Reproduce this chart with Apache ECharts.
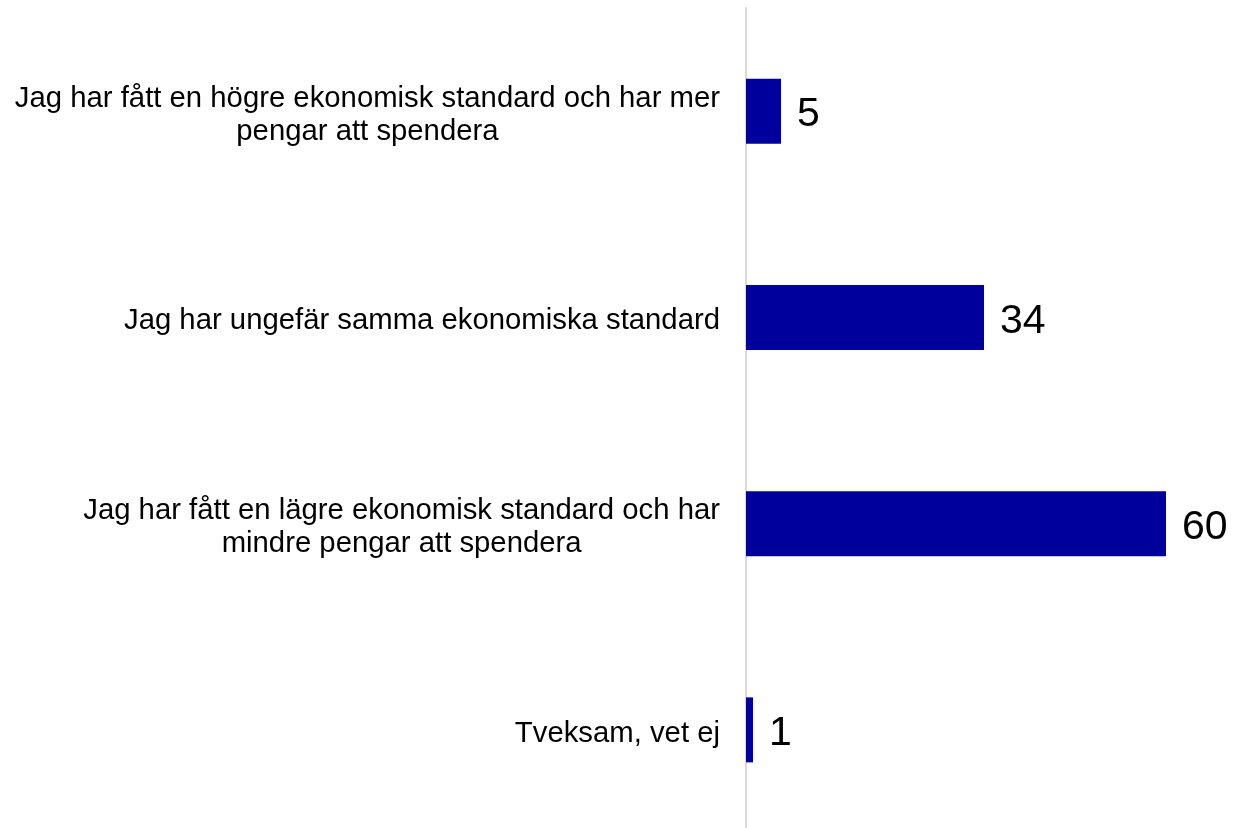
<!DOCTYPE html>
<html>
<head>
<meta charset="utf-8">
<script src="https://cdn.jsdelivr.net/npm/echarts@6/dist/echarts.min.js"></script>
<style>
  html, body { margin: 0; padding: 0; background: #fff; }
  #chart { width: 1236px; height: 828px; }
</style>
</head>
<body>
<div id="chart"></div>
<script>
// categories top -> bottom
const categories = [
  'Jag har fått en högre ekonomisk standard och har mer\npengar att spendera',
  'Jag har ungefär samma ekonomiska standard',
  'Jag har fått en lägre ekonomisk standard och har\nmindre pengar att spendera',
  'Tveksam, vet ej'
]
const values = [5, 34, 60, 1]

const chart = echarts.init(document.getElementById('chart'))

const option = {
  backgroundColor: '#fff',
  animation: false,
  grid: {
    left: 746,
    right: 0,
    top: 8,
    height: 825,
    outerBoundsMode: 'none'
  },
  xAxis: {
    type: 'value',
    min: 0,
    max: 70,
    show: false
  },
  yAxis: {
    type: 'category',
    inverse: true,
    data: categories,
    axisLine: { show: true, lineStyle: { color: '#d9d9d9', width: 2 } },
    axisTick: { show: false },
    splitLine: { show: false },
    axisLabel: {
      margin: 26,
      padding: [8, 0, 0, 0],
      // center each wrapped line inside a right-aligned block
      formatter: v => v.split('\n').map(s => '{c|' + s + '}').join('\n'),
      rich: {
        c: {
          align: 'center',
          fontFamily: 'Liberation Sans, Arial, sans-serif',
          fontSize: 29.3,
          lineHeight: 33,
          color: '#000'
        }
      }
    }
  },
  series: [
    {
      type: 'bar',
      data: values,
      barWidth: 65,
      itemStyle: { color: '#00009c' },
      label: {
        show: true,
        position: 'right',
        distance: 16,
        offset: [0, 4],
        color: '#000',
        fontFamily: 'Liberation Sans, Arial, sans-serif',
        fontSize: 41
      }
    }
  ]
}

chart.setOption(option)
</script>
</body>
</html>
